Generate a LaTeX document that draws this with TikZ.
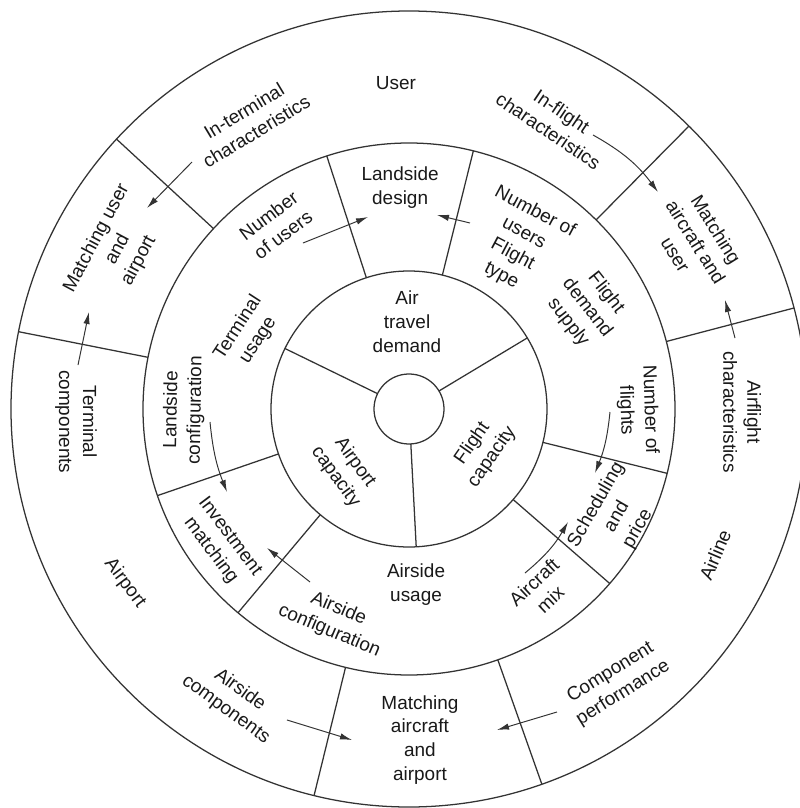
\documentclass[tikz,border=0pt]{standalone}
\usepackage{fontspec}
\setmainfont{Liberation Sans}
\usepackage{tikz}
\usetikzlibrary{arrows.meta}
\tikzset{
  lbl/.style = {align=center, inner sep=1pt, text=black!90,
    font=\fontsize{13.5}{17}\selectfont},% text in a sector
  ring/.style = {draw=black!80, line width=0.9pt},% circles and dividers
  arr/.style = {draw=black!80, line width=0.7pt,
    -{Latex[length=3mm,width=1.6mm]}}% influence arrow
}

\begin{document}
\begin{tikzpicture}
\useasboundingbox (-10.225,-9.975) rectangle (9.775,10.225);
\fill[white] (-10.225,-9.975) rectangle (9.775,10.225);
\clip (-10.225,-9.975) rectangle (9.775,10.225);

% rings
\draw[ring] (0,0) circle (9.95);
\draw[ring] (0,0) circle (6.65);
\draw[ring] (0,0) circle (3.45);
\draw[ring] (0,0) circle (0.875);

% inner dividers
\draw[ring] (31:0.875) -- (31:3.45);
\draw[ring] (154:0.875) -- (154:3.45);
\draw[ring] (273:0.875) -- (273:3.45);
% middle dividers
\draw[ring] (76:3.45) -- (76:6.65);
\draw[ring] (108:3.45) -- (108:6.65);
\draw[ring] (199:3.45) -- (199:6.65);
\draw[ring] (230:3.45) -- (230:6.65);
\draw[ring] (-41:3.45) -- (-41:6.65);
\draw[ring] (-14:3.45) -- (-14:6.65);
% outer dividers
\draw[ring] (14.7:6.65) -- (14.7:9.95);
\draw[ring] (45.3:6.65) -- (45.3:9.95);
\draw[ring] (137.3:6.65) -- (137.3:9.95);
\draw[ring] (168.8:6.65) -- (168.8:9.95);
\draw[ring] (256.2:6.65) -- (256.2:9.95);
\draw[ring] (289.5:6.65) -- (289.5:9.95);

% outer ring
\node[lbl] (user) at (92.3:8.16) {User};
\node[lbl, rotate=31] (interm) at (118.9:8.22) {In-terminal\\characteristics};
\node[lbl, rotate=-34] (inflight) at (63.1:8.07) {In-flight\\characteristics};
\node[lbl, rotate=-58] (mau) at (30.2:8.3) {Matching\\aircraft and\\user};
\node[lbl, rotate=-90] (airflight) at (-0.5:8.33) {Airflight\\characteristics};
\node[lbl, rotate=67] (airline) at (-25.5:8.48) {Airline};
\node[lbl, rotate=32] (compperf) at (-52.8:8.6) {Component\\performance};
\node[lbl] (maa) at (-88.1:8.28) {Matching\\aircraft\\and\\airport};
\node[lbl, rotate=-36] (airsidecomp) at (238.8:8.5) {Airside\\components};
\node[lbl, rotate=-53] (airport) at (211.5:8.33) {Airport};
\node[lbl, rotate=-90] (termcomp) at (182.2:8.33) {Terminal\\components};
\node[lbl, rotate=62] (mua) at (151.3:8.3) {Matching user\\and\\airport};

% middle ring
\node[lbl] (landdes) at (92.3:5.53) {Landside\\design};
\node[lbl, rotate=37] (nusers) at (125.9:5.68) {Number\\of users};
\node[lbl, rotate=-28] (nuft) at (56.5:4.95) {Number of\\users\\Flight\\type};
\node[lbl, rotate=-52] (fds) at (29.6:5.12) {Flight\\demand\\supply};
\node[lbl, rotate=-88] (nflights) at (-0.25:5.72) {Number of\\flights};
\node[lbl, rotate=60] (sched) at (-27.4:5.86) {Scheduling\\and\\price};
\node[lbl, rotate=43] (acmix) at (-53.8:5.63) {Aircraft\\mix};
\node[lbl] (airsideuse) at (-87.7:4.4) {Airside\\usage};
\node[lbl, rotate=-23] (airsideconf) at (250.4:5.6) {Airside\\configuration};
\node[lbl, rotate=-53] (invmatch) at (215.5:5.8) {Investment\\matching};
\node[lbl, rotate=89] (landconf) at (180.25:5.63) {Landside\\configuration};
\node[lbl, rotate=57] (termuse) at (155:4.44) {Terminal\\usage};

% inner ring
\node[lbl] (atd) at (91.3:2.18) {Air\\travel\\demand};
\node[lbl, rotate=-54] (apcap) at (223.6:2.2) {Airport\\capacity};
\node[lbl, rotate=55] (flcap) at (-29.3:2.1) {Flight\\capacity};

% arrow ends
\coordinate (intermA) at (-5.425,6.175);
\coordinate (muaA) at (-6.55,5.025);
\coordinate (inflightA) at (4.6,6.85);
\coordinate (mauA) at (6.225,5.425);
\coordinate (airflightA) at (8.15,1.775);
\coordinate (mauB) at (7.9,2.725);
\coordinate (compperfA) at (3.7,-7.575);
\coordinate (maaA) at (2.2,-8.025);
\coordinate (airsidecompA) at (-3.05,-7.775);
\coordinate (maaB) at (-1.425,-8.275);
\coordinate (termcompA) at (-8.275,1.1);
\coordinate (muaB) at (-8.0,2.425);
\coordinate (nusersA) at (-2.65,4.15);
\coordinate (landdesA) at (-1.025,4.8);
\coordinate (nuftA) at (1.525,4.65);
\coordinate (landdesB) at (0.7,4.85);
\coordinate (nflightsA) at (5.025,-0.075);
\coordinate (schedA) at (4.65,-1.6);
\coordinate (acmixA) at (2.9,-4.1);
\coordinate (schedB) at (3.975,-2.825);
\coordinate (airsideconfA) at (-2.475,-4.325);
\coordinate (invmatchA) at (-3.55,-3.475);
\coordinate (landconfA) at (-4.975,-0.325);
\coordinate (invmatchB) at (-4.55,-2.075);

\draw[arr] (intermA) -- (muaA);
\draw[arr] (inflightA) to[bend left=12] (mauA);
\draw[arr] (airflightA) -- (mauB);
\draw[arr] (compperfA) -- (maaA);
\draw[arr] (airsidecompA) -- (maaB);
\draw[arr] (termcompA) -- (muaB);
\draw[arr] (nusersA) -- (landdesA);
\draw[arr] (nuftA) -- (landdesB);
\draw[arr] (nflightsA) to[bend left=8] (schedA);
\draw[arr] (acmixA) to[bend right=10] (schedB);
\draw[arr] (airsideconfA) -- (invmatchA);
\draw[arr] (landconfA) to[bend right=8] (invmatchB);
\end{tikzpicture}
\end{document}
